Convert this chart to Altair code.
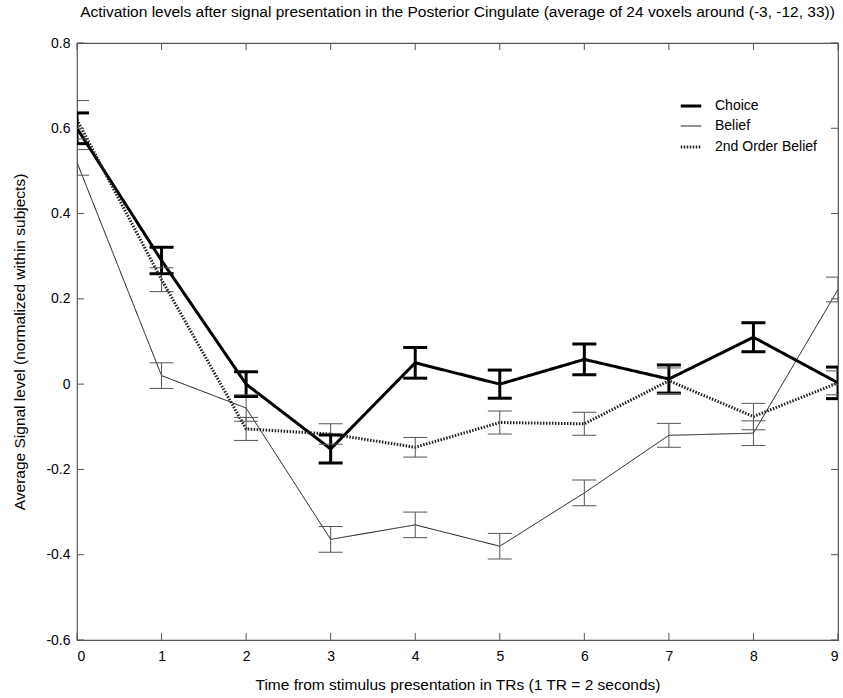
import altair as alt
import pandas as pd

# ---- data ----
tr = [0, 1, 2, 3, 4, 5, 6, 7, 8, 9]
choice = [0.60, 0.29, 0.0, -0.152, 0.05, 0.0, 0.058, 0.012, 0.11, 0.003]
choice_err = [0.036, 0.031, 0.029, 0.033, 0.036, 0.033, 0.036, 0.033, 0.034, 0.037]
belief = [0.52, 0.02, -0.056, -0.364, -0.33, -0.38, -0.255, -0.12, -0.115, 0.222]
belief_err = [0.03, 0.03, 0.031, 0.03, 0.03, 0.03, 0.03, 0.028, 0.029, 0.029]
second = [0.62, 0.245, -0.105, -0.117, -0.148, -0.09, -0.093, 0.008, -0.076, 0.003]
second_err = [0.045, 0.028, 0.027, 0.024, 0.023, 0.027, 0.027, 0.03, 0.031, 0.028]

series_names = ["Choice", "Belief", "2nd Order Belief"]
x_ticks = [0, 1, 2, 3, 4, 5, 6, 7, 8, 9]
y_ticks = [-0.6, -0.4, -0.2, 0, 0.2, 0.4, 0.6, 0.8]

rows = []
for name, vals, errs in zip(series_names, [choice, belief, second], [choice_err, belief_err, second_err]):
    for t, v, e in zip(tr, vals, errs):
        rows.append({"t": t, "series": name, "value": v, "lo": v - e, "hi": v + e})
df = pd.DataFrame(rows)

W, H = 761, 597
FONT = "Liberation Sans"

xs = alt.Scale(domain=[0, 9], nice=False)
ys = alt.Scale(domain=[-0.6, 0.8], nice=False)

X = alt.X("t:Q", scale=xs,
          axis=alt.Axis(values=x_ticks, format="d", title="Time from stimulus presentation in TRs (1 TR = 2 seconds)",
                        labelPadding=9, titlePadding=14, grid=False, labelFont=FONT, labelFontSize=14,
                        titleFont=FONT, titleFontSize=15.5, titleFontWeight="normal"))
Y = alt.Y("value:Q", scale=ys,
          axis=alt.Axis(values=y_ticks, title="Average Signal level (normalized within subjects)",
                        labelExpr="datum.value == 0 ? '0' : (datum.value < 0 ? '-' : '') + format(abs(datum.value), '.1f')",
                        labelPadding=7, titlePadding=18, grid=False, labelFont=FONT, labelFontSize=14,
                        titleFont=FONT, titleFontSize=15.5, titleFontWeight="normal"))

base = alt.Chart(df)

lines = base.mark_line(clip=True).encode(
    x=X, y=Y,
    color=alt.Color("series:N", sort=series_names,
                    scale=alt.Scale(domain=series_names, range=["#000000", "#111111", "#222222"]),
                    legend=alt.Legend(title=None, orient="none", legendX=602, legendY=51,
                                      symbolType="stroke", symbolSize=420, labelFont=FONT,
                                      labelFontSize=14, rowPadding=2, padding=0, labelOffset=12)),
    strokeWidth=alt.StrokeWidth("series:N", sort=series_names,
                                scale=alt.Scale(type="ordinal", domain=series_names, range=[3, 1, 3])),
    strokeDash=alt.StrokeDash("series:N", sort=series_names,
                              scale=alt.Scale(domain=series_names, range=[[1, 0], [1, 0], [1.5, 1.5]])),
)

is_choice = alt.datum.series == "Choice"
not_choice = alt.datum.series != "Choice"

bars_thick = base.transform_filter(is_choice).mark_rule(clip=True, color="black", strokeWidth=3).encode(
    x="t:Q", y="lo:Q", y2="hi:Q")
bars_thin = base.transform_filter(not_choice).mark_rule(clip=True, color="#555555", strokeWidth=1).encode(
    x="t:Q", y="lo:Q", y2="hi:Q")

caps = []
for fld in ["lo", "hi"]:
    caps.append(base.transform_filter(is_choice).mark_tick(clip=True, orient="horizontal", size=24, thickness=3, color="black", opacity=1).encode(
        x="t:Q", y=f"{fld}:Q"))
    caps.append(base.transform_filter(not_choice).mark_tick(clip=True, orient="horizontal", size=24, thickness=1, color="#555555", opacity=1).encode(
        x="t:Q", y=f"{fld}:Q"))

xt = pd.DataFrame({"t": x_ticks})
yt = pd.DataFrame({"v": y_ticks})
TL = 7
tick_color = "#555555"
xb = alt.Chart(xt).mark_rule(color=tick_color).encode(x="t:Q", y=alt.value(H), y2=alt.value(H - TL))
xtp = alt.Chart(xt).mark_rule(color=tick_color).encode(x="t:Q", y=alt.value(0), y2=alt.value(TL))
yl = alt.Chart(yt).mark_rule(color=tick_color).encode(y=alt.Y("v:Q"), x=alt.value(0), x2=alt.value(TL))
yr = alt.Chart(yt).mark_rule(color=tick_color).encode(y=alt.Y("v:Q"), x=alt.value(W), x2=alt.value(W - TL))

chart = alt.layer(lines, bars_thin, bars_thick, *caps, xb, xtp, yl, yr).properties(
    width=W, height=H,
    title=alt.Title("Activation levels after signal presentation in the Posterior Cingulate (average of 24 voxels around (-3, -12, 33))",
                    font=FONT, fontSize=15.5, fontWeight="normal", offset=16, anchor="middle", color="black"),
    autosize=alt.AutoSizeParams(type="none"),
    padding={"left": 77, "top": 43, "right": 5, "bottom": 58},
    background="white",
).configure_view(stroke="#555555", strokeWidth=1.2).configure_axis(
    grid=False, ticks=False, domain=False, labelFont=FONT, labelFontSize=14, labelColor="black",
    titleFont=FONT, titleFontSize=15.5, titleFontWeight="normal", titleColor="black",
)

chart.save("out.html", embed_options={"renderer": "svg", "actions": False})
